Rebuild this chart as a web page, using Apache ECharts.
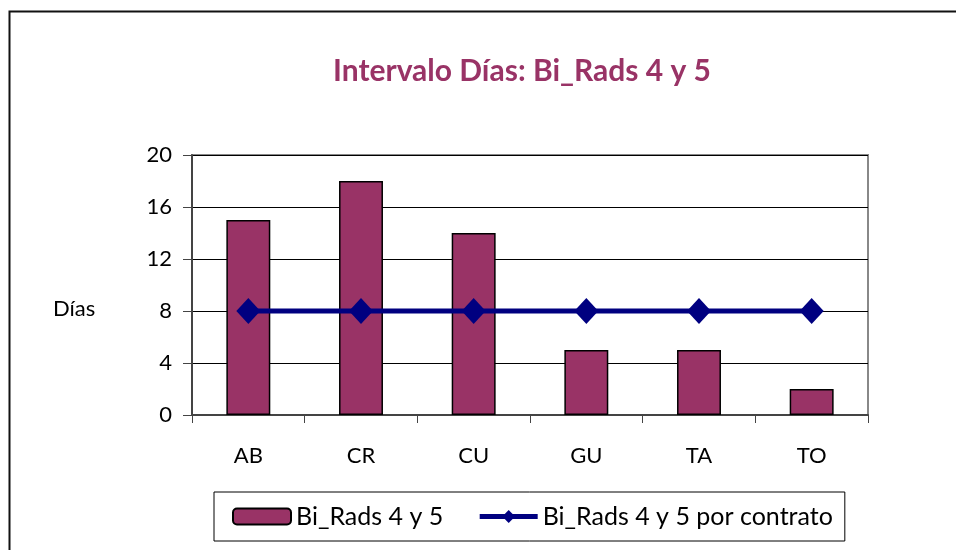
<!DOCTYPE html>
<html>
<head>
<meta charset="utf-8">
<title>Intervalo Días</title>
<script src="https://cdn.jsdelivr.net/npm/echarts@6/dist/echarts.min.js"></script>
<style>
html,body{margin:0;padding:0;background:#fff;}
#chart{width:956px;height:550px;}
</style>
</head>
<body>
<div id="chart"></div>
<script>
// datos
var categorias = ['AB', 'CR', 'CU', 'GU', 'TA', 'TO'];
var diasBiRads = [15, 18, 14, 5, 5, 2];
var diasContrato = [8, 8, 8, 8, 8, 8];
var nombreBarras = 'Bi_Rads 4 y 5';
var nombreLinea = 'Bi_Rads 4 y 5 por contrato';

var fuente = 'Lato';
var myChart = echarts.init(document.getElementById('chart'));

var option = {
	animation: false,
	backgroundColor: '#fff',
	textStyle: { fontFamily: fuente },
	title: {
		text: 'Intervalo Días: Bi_Rads 4 y 5',
		left: 517,
		textAlign: 'center',
		top: 51,
		textStyle: { color: '#993366', fontSize: 30, fontWeight: 'bold', fontFamily: fuente }
	},
	graphic: [{
		//marco exterior
		type: 'rect',
		left: 7, top: 9,
		shape: { width: 1000, height: 600 },
		style: { fill: 'none', stroke: '#111', lineWidth: 2 },
		silent: true
	}, {
		//titulo del eje (a la altura del 8)
		type: 'text',
		left: 53, top: 298,
		style: { text: 'Días', fill: '#000', font: '22px Lato' },
		silent: true
	}],
	legend: {
		data: [
			{ name: nombreBarras },
			{ name: nombreLinea, lineStyle: { width: 5, color: '#000080' } }
		],
		left: 214, top: 492,
		padding: [12, 12, 12, 18],
		borderColor: '#000',
		borderWidth: 1,
		itemWidth: 58,
		itemHeight: 16,
		itemGap: 34,
		textStyle: { fontSize: 25, color: '#000', fontFamily: fuente }
	},
	grid: {
		left: 192, right: 88, top: 155, bottom: 135,
		show: true,
		borderColor: '#888',
		borderWidth: 2,
		containLabel: false
	},
	xAxis: {
		type: 'category',
		data: categorias,
		boundaryGap: true,
		axisLine: { lineStyle: { color: '#444', width: 2 } },
		axisTick: { show: true, length: 8, lineStyle: { color: '#444' } },
		axisLabel: { color: '#000', fontSize: 22, margin: 30, fontFamily: fuente }
	},
	yAxis: {
		type: 'value',
		min: 0, max: 20, interval: 4,
		axisLine: { show: true, lineStyle: { color: '#444', width: 2 } },
		axisTick: { show: true, length: 9, lineStyle: { color: '#444' } },
		axisLabel: { color: '#000', fontSize: 22, margin: 20, fontFamily: fuente },
		splitLine: { show: true, lineStyle: { color: '#000', width: 1 } }
	},
	series: [{
		name: nombreBarras,
		type: 'bar',
		data: diasBiRads,
		barWidth: '39%',
		itemStyle: { color: '#993366', borderColor: '#000', borderWidth: 1.5 }
	}, {
		name: nombreLinea,
		type: 'line',
		data: diasContrato,
		symbol: 'diamond',
		symbolSize: [24, 26],
		lineStyle: { color: '#000080', width: 5 },
		itemStyle: { color: '#000080' }
	}]
};
myChart.setOption(option);
</script>
</body>
</html>
